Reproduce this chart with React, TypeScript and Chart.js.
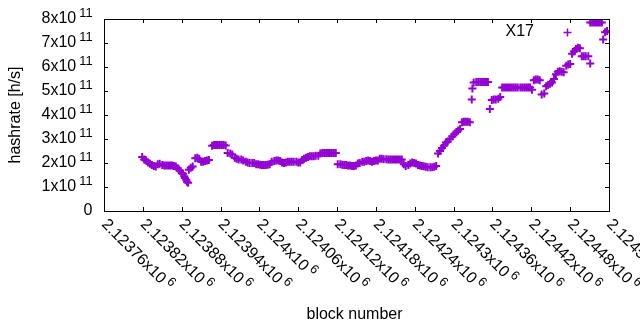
import { useEffect, useRef } from "react";
import { Chart, registerables } from "chart.js";

Chart.register(...registerables);

const seriesLabel = "X17";
const xTitle = "block number";
const yTitle = "hashrate [h/s]";
const pointColor = "#9400d3";

const blocks = [
  2123819, 2123822, 2123825, 2123828, 2123831, 2123834, 2123837, 2123840, 2123843, 2123846,
  2123850, 2123853, 2123856, 2123859, 2123862, 2123865, 2123868, 2123871, 2123874, 2123877,
  2123880, 2123882, 2123884, 2123885, 2123887, 2123888, 2123890, 2123891, 2123894, 2123897,
  2123901, 2123904, 2123907, 2123910, 2123913, 2123916, 2123919, 2123922, 2123927, 2123930,
  2123933, 2123936, 2123939, 2123942, 2123945, 2123948, 2123951, 2123955, 2123958, 2123962,
  2123965, 2123968, 2123972, 2123975, 2123979, 2123982, 2123985, 2123989, 2123992, 2123995,
  2123998, 2124001, 2124004, 2124007, 2124010, 2124013, 2124016, 2124019, 2124023, 2124026,
  2124029, 2124032, 2124035, 2124038, 2124041, 2124044, 2124047, 2124050, 2124053, 2124057,
  2124060, 2124063, 2124066, 2124069, 2124072, 2124075, 2124078, 2124081, 2124084, 2124087,
  2124091, 2124094, 2124097, 2124100, 2124103, 2124106, 2124109, 2124112, 2124115, 2124118,
  2124121, 2124125, 2124128, 2124131, 2124134, 2124137, 2124140, 2124143, 2124146, 2124149,
  2124152, 2124155, 2124159, 2124162, 2124165, 2124168, 2124171, 2124174, 2124177, 2124180,
  2124183, 2124186, 2124189, 2124192, 2124196, 2124199, 2124202, 2124205, 2124208, 2124211,
  2124214, 2124217, 2124220, 2124223, 2124226, 2124230, 2124233, 2124236, 2124239, 2124242,
  2124245, 2124248, 2124251, 2124254, 2124257, 2124260, 2124264, 2124267, 2124270, 2124273,
  2124276, 2124279, 2124282, 2124285, 2124288, 2124291, 2124294, 2124298, 2124301, 2124304,
  2124307, 2124310, 2124313, 2124316, 2124319, 2124322, 2124325, 2124328, 2124329, 2124331,
  2124335, 2124338, 2124341, 2124344, 2124347, 2124350, 2124353, 2124356, 2124359, 2124362,
  2124365, 2124369, 2124372, 2124375, 2124378, 2124381, 2124384, 2124387, 2124390, 2124393,
  2124396, 2124399, 2124403, 2124406, 2124409, 2124412, 2124415, 2124418, 2124421, 2124424,
  2124427, 2124430, 2124433, 2124436, 2124440, 2124443, 2124446, 2124449, 2124452, 2124455,
  2124458, 2124461, 2124464, 2124467, 2124470, 2124474, 2124477, 2124480, 2124483, 2124486,
  2124489, 2124492, 2124495, 2124498, 2124501, 2124504, 2124508, 2124511, 2124511, 2124514,
  2124517, 2124520, 2124523, 2124526, 2124529, 2124531, 2124534, 2124537,
];

const hashrates = [
  2.25e11, 2.15e11, 2.10e11, 2.02e11, 1.97e11, 1.92e11, 1.88e11, 1.85e11, 1.95e11, 1.97e11,
  1.92e11, 1.90e11, 1.90e11, 1.90e11, 1.90e11, 1.90e11, 1.88e11, 1.85e11, 1.78e11, 1.68e11,
  1.58e11, 1.55e11, 1.45e11, 1.38e11, 1.30e11, 1.22e11, 1.18e11, 1.72e11, 1.80e11, 1.85e11,
  2.20e11, 2.22e11, 2.18e11, 2.05e11, 2.05e11, 2.08e11, 2.10e11, 2.12e11, 2.72e11, 2.75e11,
  2.75e11, 2.75e11, 2.75e11, 2.75e11, 2.75e11, 2.73e11, 2.42e11, 2.40e11, 2.35e11, 2.22e11,
  2.18e11, 2.15e11, 2.15e11, 2.10e11, 2.05e11, 2.02e11, 2.00e11, 2.00e11, 2.00e11, 1.95e11,
  1.95e11, 1.93e11, 1.92e11, 1.92e11, 1.92e11, 1.93e11, 1.95e11, 2.05e11, 2.08e11, 2.10e11,
  2.10e11, 2.08e11, 2.02e11, 2.00e11, 2.02e11, 2.05e11, 2.05e11, 2.05e11, 2.05e11, 2.05e11,
  2.02e11, 2.02e11, 2.12e11, 2.18e11, 2.22e11, 2.25e11, 2.28e11, 2.28e11, 2.28e11, 2.30e11,
  2.30e11, 2.40e11, 2.42e11, 2.42e11, 2.42e11, 2.42e11, 2.42e11, 2.42e11, 2.42e11, 2.42e11,
  1.95e11, 1.95e11, 1.93e11, 1.92e11, 1.92e11, 1.90e11, 1.90e11, 1.88e11, 1.88e11, 1.90e11,
  1.98e11, 2.00e11, 2.05e11, 2.05e11, 2.08e11, 2.10e11, 2.08e11, 2.05e11, 2.08e11, 2.10e11,
  2.10e11, 2.18e11, 2.18e11, 2.16e11, 2.16e11, 2.15e11, 2.15e11, 2.15e11, 2.15e11, 2.15e11,
  2.15e11, 2.15e11, 2.15e11, 1.95e11, 1.88e11, 1.92e11, 1.98e11, 2.02e11, 2.00e11, 1.98e11,
  1.92e11, 1.90e11, 1.88e11, 1.86e11, 1.84e11, 1.82e11, 1.82e11, 1.82e11, 1.84e11, 1.88e11,
  2.40e11, 2.50e11, 2.62e11, 2.72e11, 2.85e11, 2.90e11, 3.00e11, 3.10e11, 3.20e11, 3.28e11,
  3.35e11, 3.42e11, 3.70e11, 3.72e11, 3.72e11, 3.72e11, 3.70e11, 4.65e11, 5.10e11, 5.35e11,
  5.38e11, 5.38e11, 5.38e11, 5.38e11, 5.38e11, 5.38e11, 5.38e11, 4.25e11, 4.62e11, 4.65e11,
  4.65e11, 4.68e11, 4.75e11, 5.15e11, 5.15e11, 5.15e11, 5.15e11, 5.15e11, 5.15e11, 5.15e11,
  5.15e11, 5.15e11, 5.15e11, 5.15e11, 5.15e11, 5.15e11, 5.15e11, 5.15e11, 5.05e11, 5.45e11,
  5.48e11, 5.48e11, 5.45e11, 4.85e11, 4.90e11, 5.20e11, 5.25e11, 5.30e11, 5.35e11, 5.50e11,
  5.70e11, 5.80e11, 5.82e11, 5.80e11, 5.78e11, 6.05e11, 6.10e11, 6.12e11, 6.55e11, 6.65e11,
  6.75e11, 6.80e11, 6.78e11, 6.45e11, 6.45e11, 6.45e11, 6.45e11, 6.15e11, 7.85e11, 7.85e11,
  7.85e11, 7.85e11, 7.85e11, 7.85e11, 7.85e11, 7.15e11, 7.45e11, 7.50e11,
];

const xMin = 2123760;
const xMax = 2124540;
const xTicks = [
  2123760, 2123820, 2123880, 2123940, 2124000, 2124060, 2124120,
  2124180, 2124240, 2124300, 2124360, 2124420, 2124480, 2124540,
];
const xTickMantissas = [
  "2.12376", "2.12382", "2.12388", "2.12394", "2.124", "2.12406", "2.12412",
  "2.12418", "2.12424", "2.1243", "2.12436", "2.12442", "2.12448", "2.12454",
];
const xTickExponent = "6";

const yMin = 0;
const yMax = 8e11;
const yTicks = [0, 1e11, 2e11, 3e11, 4e11, 5e11, 6e11, 7e11, 8e11];
const yTickMantissas = ["0", "1", "2", "3", "4", "5", "6", "7", "8"];
const yTickExponent = "11";

const FONT_FAMILY = '"Liberation Sans", Arial, sans-serif';
const MAIN_FONT = `16px ${FONT_FAMILY}`;
const SUP_FONT = `12.8px ${FONT_FAMILY}`;

const gnuplotPlugin = {
  id: "gnuplotFrame",
  afterDraw(chart: any) {
    const ctx: CanvasRenderingContext2D = chart.ctx;
    const a = chart.chartArea;
    const xs = chart.scales.x;
    const ys = chart.scales.y;
    ctx.save();
    ctx.strokeStyle = "#000";
    ctx.lineWidth = 1;
    ctx.strokeRect(a.left + 0.5, a.top + 0.5, a.right - a.left, a.bottom - a.top);

    const tl = 4;
    ctx.beginPath();
    for (const v of xTicks) {
      const px = Math.round(xs.getPixelForValue(v)) + 0.5;
      ctx.moveTo(px, a.bottom);
      ctx.lineTo(px, a.bottom - tl);
      ctx.moveTo(px, a.top);
      ctx.lineTo(px, a.top + tl);
    }
    for (const v of yTicks) {
      const py = Math.round(ys.getPixelForValue(v)) + 0.5;
      ctx.moveTo(a.left, py);
      ctx.lineTo(a.left + tl, py);
      ctx.moveTo(a.right, py);
      ctx.lineTo(a.right - tl, py);
    }
    ctx.stroke();

    ctx.fillStyle = "#000";
    ctx.textBaseline = "middle";

    const yRight = a.left - 11.5;
    yTicks.forEach((v, i) => {
      const py = ys.getPixelForValue(v);
      const m = yTickMantissas[i];
      if (m === "0") {
        ctx.font = MAIN_FONT;
        ctx.textAlign = "right";
        ctx.fillText("0", yRight, py);
      } else {
        ctx.font = SUP_FONT;
        const sw = ctx.measureText(yTickExponent).width;
        ctx.textAlign = "left";
        ctx.fillText(yTickExponent, yRight - sw, py - 5.5);
        ctx.font = MAIN_FONT;
        ctx.textAlign = "right";
        ctx.fillText(m + "x10", yRight - sw - 3, py);
      }
    });

    xTicks.forEach((v, i) => {
      const px = xs.getPixelForValue(v);
      ctx.save();
      ctx.translate(px, a.bottom + 11);
      ctx.rotate(Math.PI / 4);
      ctx.textAlign = "left";
      ctx.font = MAIN_FONT;
      const main = xTickMantissas[i] + "x10";
      ctx.fillText(main, 0, 0);
      const w = ctx.measureText(main).width;
      ctx.font = SUP_FONT;
      ctx.fillText(xTickExponent, w + 3, -5);
      ctx.restore();
    });

    ctx.font = MAIN_FONT;
    ctx.textAlign = "center";
    ctx.fillText(xTitle, (a.left + a.right) / 2 - 2, 315);
    ctx.save();
    ctx.translate(16, (a.top + a.bottom) / 2);
    ctx.rotate(-Math.PI / 2);
    ctx.fillText(yTitle, 0, 0);
    ctx.restore();

    const ky = a.top + 13;
    ctx.textAlign = "right";
    ctx.fillText(chart.data.datasets[0].label, a.right - 75, ky);
    const kx = Math.round(a.right - 42) + 0.5;
    const kyy = Math.round(ky) + 0.5;
    ctx.strokeStyle = pointColor;
    ctx.lineWidth = 1.5;
    ctx.beginPath();
    ctx.moveTo(kx - 4, kyy);
    ctx.lineTo(kx + 4, kyy);
    ctx.moveTo(kx, kyy - 4);
    ctx.lineTo(kx, kyy + 4);
    ctx.stroke();
    ctx.restore();
  },
};

export default function App() {
  const canvasRef = useRef<HTMLCanvasElement | null>(null);

  useEffect(() => {
    const canvas = canvasRef.current;
    if (!canvas) return;
    const points = blocks.map((b, i) => ({ x: b, y: hashrates[i] }));
    const chart = new Chart(canvas, {
      type: "scatter",
      data: {
        datasets: [
          {
            label: seriesLabel,
            data: points,
            pointStyle: "cross",
            pointRadius: 4,
            pointBorderWidth: 2,
            borderColor: pointColor,
            backgroundColor: pointColor,
            pointBorderColor: pointColor,
            showLine: false,
          },
        ],
      },
      options: {
        animation: false,
        responsive: false,
        devicePixelRatio: 1,
        events: [],
        layout: { padding: { left: 104, right: 31, top: 19, bottom: 119 } },
        plugins: { legend: { display: false }, tooltip: { enabled: false } },
        scales: {
          x: { type: "linear", display: false, min: xMin, max: xMax },
          y: { type: "linear", display: false, min: yMin, max: yMax },
        },
      },
      plugins: [gnuplotPlugin],
    });
    return () => chart.destroy();
  }, []);

  return (
    <div style={{ position: "fixed", left: 0, top: 0, width: 640, height: 330, background: "#fff" }}>
      <canvas ref={canvasRef} width={640} height={330} style={{ width: 640, height: 330 }} />
    </div>
  );
}
